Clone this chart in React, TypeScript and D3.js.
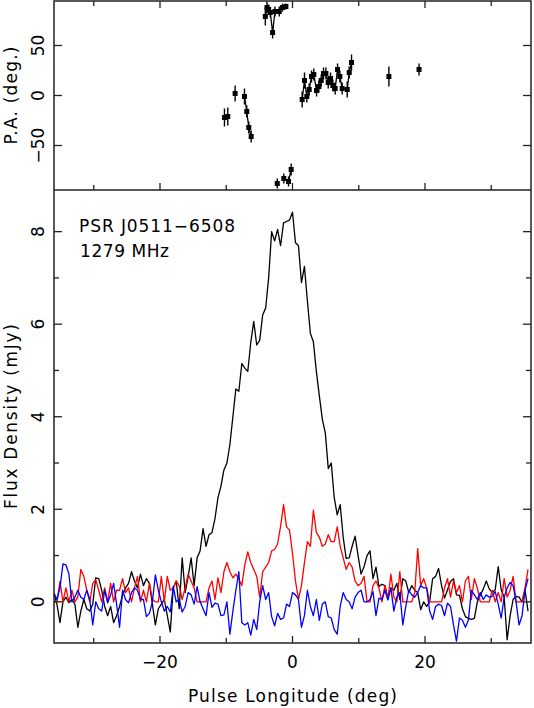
import React from "react";
import * as d3 from "d3";

// profile bins: longitude of bin i = LON_START + i * LON_STEP (deg)
const LON_START = -36;
const LON_STEP = 0.45;

// total intensity (mJy)
const TOTAL_I = [
  0.19, -0.06, -0.45, 0.0, 0.1, -0.02, 0.05, -0.05, -0.55, -0.2,
  0.05, -0.15, -0.2, -0.05, 0.52, 0.5, 0.25, -0.1, -0.3, -0.1,
  -0.45, -0.3, -0.1, 0.15, 0.3, 0.4, 0.65, 0.45, 0.3, 0.6,
  0.35, 0.5, 0.4, -0.05, -0.5, -0.15, -0.05, 0.05, -0.3, -0.65,
  0.3, 0.45, -0.15, 0.95, 0.2, 0.55, 0.95, 0.35, 0.95, 1.1,
  1.58, 1.2, 1.45, 1.5, 1.8, 2.25, 2.5, 2.85, 3.0, 3.4,
  4.0, 4.6, 4.55, 5.15, 5.05, 4.98, 5.6, 6.06, 5.55, 5.65,
  6.2, 6.35, 7.0, 8.0, 7.8, 8.05, 7.7, 8.19, 8.22, 8.25,
  8.42, 7.76, 7.7, 6.9, 7.25, 6.5, 5.8, 5.62, 4.98, 4.45,
  3.95, 3.65, 2.88, 3.0, 2.25, 1.88, 2.1, 1.4, 0.94, 0.95,
  1.2, 1.42, 1.0, 0.6, 0.76, 1.0, 1.1, 0.5, 0.75, 0.33,
  0.38, 0.35, 0.08, 0.3, 0.25, 0.4, 0.05, 0.5, 0.45, 0.2,
  0.35, 0.25, 0.2, -0.17, 0.0, -0.1, 0.0, 0.5, 0.55, 0.72,
  0.35, 0.08, 0.26, 0.44, 0.5, 0.15, 0.14, -0.15, -0.32, -0.36,
  -0.38, -0.36, 0.0, 0.14, 0.28, 0.45, 0.28, 0.2, 0.26, 0.76,
  0.26, 0.1, -0.82, -0.3, 0.05, 0.12, 0.1, 0.0, 0.26, -0.2,
];

// linear polarisation (mJy)
const LINEAR_L = [
  0, 0, 0.44, 0, 0.3, 0, 0.25, 0, 0.1, 0.7,
  0.55, 0.25, 0, 0.4, 0.48, 0.25, 0, 0.3, 0, 0.4,
  0, 0.25, 0.25, 0.5, 0.2, 0.3, 0, 0.3, 0.55, 0,
  0.25, 0, 0.4, 0.05, 0, 0, 0.55, 0, 0.55, 0.25,
  0.3, 0.45, 0.35, 0.05, 0.3, 0.6, 0.45, 0.3, 0, 0,
  0, 0, 0.3, 0.45, 0.05, 0.52, 0.2, 0.65, 0.85, 0.65,
  0.52, 0.6, 0.5, 0.35, 0.8, 1.08, 0.85, 0.7, 0.55, 0.1,
  0.65, 0.75, 0.85, 1.1, 1.13, 1.25, 1.63, 2.1, 1.62, 1.55,
  1.05, 0.45, 0.05, 0.35, 0.84, 1.3, 1.2, 1.98, 1.5, 1.4,
  1.2, 1.25, 1.45, 1.3, 1.3, 1.62, 1.2, 0.95, 0.7, 0.85,
  0.75, 0.45, 0.35, 0.4, 0.55, 0, 0, 0.35, 0.45, 0.3,
  0, 0.35, 0.05, 0.6, 0.1, 0, 0.65, 0, 0, 0,
  0, 0.2, 1.15, 0.35, 0.5, 0.3, 0, 0, 0, 0,
  0, 0.3, 0.5, 0.1, 0.45, 0.2, 0.35, 0, 0.45, 0.55,
  0.05, 0.5, 0.3, 0, 0, 0, 0, 0.25, 0, 0.2,
  0, 0.5, 0.1, 0.25, 0.55, 0, 0, 0, 0.3, 0.7,
];

// circular polarisation (mJy)
const CIRCULAR_V = [
  0.19, 0.05, 0.3, 0.82, 0.8, 0.6, 0.0, 0.1, 0.25, 0.1,
  0.05, 0.25, 0.05, -0.5, 0.0, -0.15, -0.2, 0.25, -0.02, 0.15,
  0.4, -0.05, -0.55, 0.25, 0.05, -0.02, 0.2, 0.3, 0.25, 0.05,
  0.05, -0.32, -0.25, 0.0, 0.58, 0.25, 0.0, -0.2, -0.1, -0.22,
  0.33, 0.0, 0.05, -0.22, -0.1, 0.2, 0.15, -0.05, 0.33, 0.0,
  -0.15, -0.3, 0.2, -0.12, -0.03, -0.05, -0.3, -0.28, 0.0, -0.7,
  -0.2, 0.25, 0.65, -0.45, -0.5, -0.45, -0.72, -0.38, -0.6, 0.0,
  0.35, 0.05, 0.2, -0.32, -0.52, -0.25, -0.38, -0.35, -0.05, -0.1,
  0.2, 0.15, 0.05, -0.55, -0.3, 0.25, -0.1, -0.3, 0.05, -0.4,
  -0.05, 0.0, -0.32, -0.35, -0.6, -0.7, -0.1, 0.2, 0.05, 0.0,
  -0.15, 0.1, 0.2, 0.25, 0.0, 0.0, 0.05, 0.22, -0.3, 0.08,
  0.05, 0.25, 0.04, 0.3, -0.2, 0.1, 0.2, -0.5, -0.1, 0.25,
  0.15, 0.1, 0.2, 0.35, 0.3, 0.3, -0.2, -0.38, -0.1, -0.05,
  -0.08, -0.3, -0.03, -0.1, -0.5, -0.85, -0.35, -0.4, -0.55, -0.4,
  0.25, 0.15, 0.05, 0.2, 0.05, 0.15, 0.1, 0.12, 0.22, -0.05,
  -0.35, 0.1, 0.3, 0.42, 0.35, 0.0, -0.5, -0.3, 0.25, 0.5,
];

// position angle points; PA_RUN groups points joined by a line
const PA_LON = [
  -10.27, -9.77, -8.66, -7.25, -6.9, -6.6, -6.24,
  -4.1, -3.85, -3.6, -3.35, -3.0, -2.65, -2.0, -1.5, -1.0,
  -2.3, -1.31, -0.6, -0.2,
  1.46, 1.81, 2.16, 2.52, 2.87, 3.22, 3.63, 3.98, 4.33, 4.68, 5.04,
  5.39, 5.74, 6.09, 6.44, 6.8, 7.15, 7.5, 8.26, 8.56, 8.91,
  14.55, 19.1,
];
const PA_DEG = [
  -22, -21, 2, -1, -16, -32, -41,
  79, 88, 86, 83, 63, 84, 84, 88, 89,
  -88, -83, -86, -74,
  -4, 15, -1, 6, 19, 21, 5, 9, 15, 22, 22,
  13, 17, 10, 7, 26, 19, 7, 6, 23, 33,
  19, 26,
];
const PA_ERR = [
  9, 9, 8, 8, 6, 6, 6,
  9, 6, 5, 5, 6, 5, 5, 4, 3,
  5, 5, 5, 6,
  8, 8, 6, 6, 6, 6, 6, 6, 6, 6, 6,
  6, 6, 6, 6, 6, 6, 6, 8, 6, 8,
  10, 6,
];
const PA_RUN = [
  0, 0, 1, 2, 2, 2, 2,
  3, 3, 3, 3, 3, 3, 3, 3, 3,
  4, 5, 5, 5,
  6, 6, 6, 6, 6, 6, 6, 6, 6, 6, 6,
  6, 6, 6, 6, 6, 6, 6, 6, 6, 6,
  7, 8,
];

const X_TICKS = [-30, -20, -10, 0, 10, 20, 30];
const X_LABELS = [-20, 0, 20];
const PA_TICKS = [-50, 0, 50];
const FLUX_TICKS = [0, 1, 2, 3, 4, 5, 6, 7, 8];
const FLUX_LABELS = [0, 2, 4, 6, 8];

const SOURCE = "PSR J0511\u22126508";
const FREQ = "1279 MHz";

const fmt = (n: number) => (n < 0 ? "\u2212" + Math.abs(n) : String(n));
const FONT = "DejaVu Sans";

export default function App() {
  const left = 54, right = 531;
  const paTop = 1, split = 190, bottom = 643;

  const x = d3.scaleLinear().domain([-36, 36]).range([left, right]);
  const yPA = d3.scaleLinear().domain([-94.5, 94.5]).range([split, paTop]);
  const yF = d3.scaleLinear().domain([-0.89, 8.9]).range([bottom, split]);

  const prof = d3.line<number>()
    .x((_, i) => x(LON_START + i * LON_STEP))
    .y(d => yF(d));

  const runs = d3.groups(PA_LON.map((l, i) => i), i => PA_RUN[i]);
  const paLine = d3.line<number>().x(i => x(PA_LON[i])).y(i => yPA(PA_DEG[i]));

  const stroke = "#222";
  const txt = { fontFamily: FONT, fontSize: 17, fill: "#000" } as const;

  return (
    <svg width={534} height={708} style={{ position: "absolute", left: 0, top: 0, background: "#fff" }}>
      <defs>
        <clipPath id="clipPA"><rect x={left} y={paTop} width={right - left} height={split - paTop} /></clipPath>
        <clipPath id="clipF"><rect x={left} y={split} width={right - left} height={bottom - split} /></clipPath>
      </defs>

      {/* PA panel */}
      <g clipPath="url(#clipPA)">
        {runs.map(([k, idx]) => (
          <path key={"r" + k} d={paLine(idx) || ""} fill="none" stroke="#000" strokeWidth={1.3} />
        ))}
        {PA_LON.map((l, i) => (
          <g key={"p" + i}>
            <line x1={x(l)} x2={x(l)} y1={yPA(PA_DEG[i] - PA_ERR[i])} y2={yPA(PA_DEG[i] + PA_ERR[i])} stroke="#000" strokeWidth={1.4} />
            <rect x={x(l) - 2.5} y={yPA(PA_DEG[i]) - 2.5} width={5} height={5} fill="#000" />
          </g>
        ))}
      </g>

      {/* profile panel */}
      <g clipPath="url(#clipF)" fill="none" strokeWidth={1.3} strokeLinejoin="round">
        <path d={prof(TOTAL_I) || ""} stroke="#000" />
        <path d={prof(LINEAR_L) || ""} stroke="#ff0000" />
        <path d={prof(CIRCULAR_V) || ""} stroke="#0000ff" />
      </g>

      {/* frames */}
      <rect x={left} y={paTop} width={right - left} height={bottom - paTop} fill="none" stroke={stroke} strokeWidth={1.5} />
      <line x1={left} x2={right} y1={split} y2={split} stroke={stroke} strokeWidth={1.5} />

      {/* x ticks */}
      {X_TICKS.map(t => {
        const len = t % 20 === 0 ? 7 : 5;
        return (
          <g key={"xt" + t} stroke={stroke} strokeWidth={1.3}>
            <line x1={x(t)} x2={x(t)} y1={paTop} y2={paTop + len} />
            <line x1={x(t)} x2={x(t)} y1={split} y2={split - len} />
            <line x1={x(t)} x2={x(t)} y1={bottom} y2={bottom - len} />
          </g>
        );
      })}
      {X_LABELS.map(t => (
        <text key={"xl" + t} x={x(t)} y={668} textAnchor="middle" {...txt}>{fmt(t)}</text>
      ))}

      {/* PA y ticks */}
      {PA_TICKS.map(t => (
        <g key={"pt" + t} stroke={stroke} strokeWidth={1.3}>
          <line x1={left} x2={left + 8} y1={yPA(t)} y2={yPA(t)} />
          <line x1={right} x2={right - 8} y1={yPA(t)} y2={yPA(t)} />
        </g>
      ))}
      {PA_TICKS.map(t => (
        <text key={"pl" + t} transform={`translate(44,${yPA(t)}) rotate(-90)`} textAnchor="middle" {...txt}>{fmt(t)}</text>
      ))}

      {/* flux y ticks */}
      {FLUX_TICKS.map(t => {
        const len = t % 2 === 0 ? 8 : 5;
        return (
          <g key={"ft" + t} stroke={stroke} strokeWidth={1.3}>
            <line x1={left} x2={left + len} y1={yF(t)} y2={yF(t)} />
            <line x1={right} x2={right - len} y1={yF(t)} y2={yF(t)} />
          </g>
        );
      })}
      {FLUX_LABELS.map(t => (
        <text key={"fl" + t} transform={`translate(44,${yF(t)}) rotate(-90)`} textAnchor="middle" {...txt}>{fmt(t)}</text>
      ))}

      {/* axis titles */}
      <text transform={`translate(16.5,${(paTop + split) / 2}) rotate(-90)`} textAnchor="middle" textLength={98} {...txt}>P.A. (deg.)</text>
      <text transform={`translate(16.5,${(split + bottom) / 2}) rotate(-90)`} textAnchor="middle" textLength={185} {...txt}>Flux Density (mJy)</text>
      <text x={(left + right) / 2} y={702} textAnchor="middle" textLength={209} {...txt}>Pulse Longitude (deg)</text>

      {/* annotations */}
      <text x={79} y={232} textLength={156} {...txt}>{SOURCE}</text>
      <text x={80} y={257} textLength={89} {...txt}>{FREQ}</text>
    </svg>
  );
}
